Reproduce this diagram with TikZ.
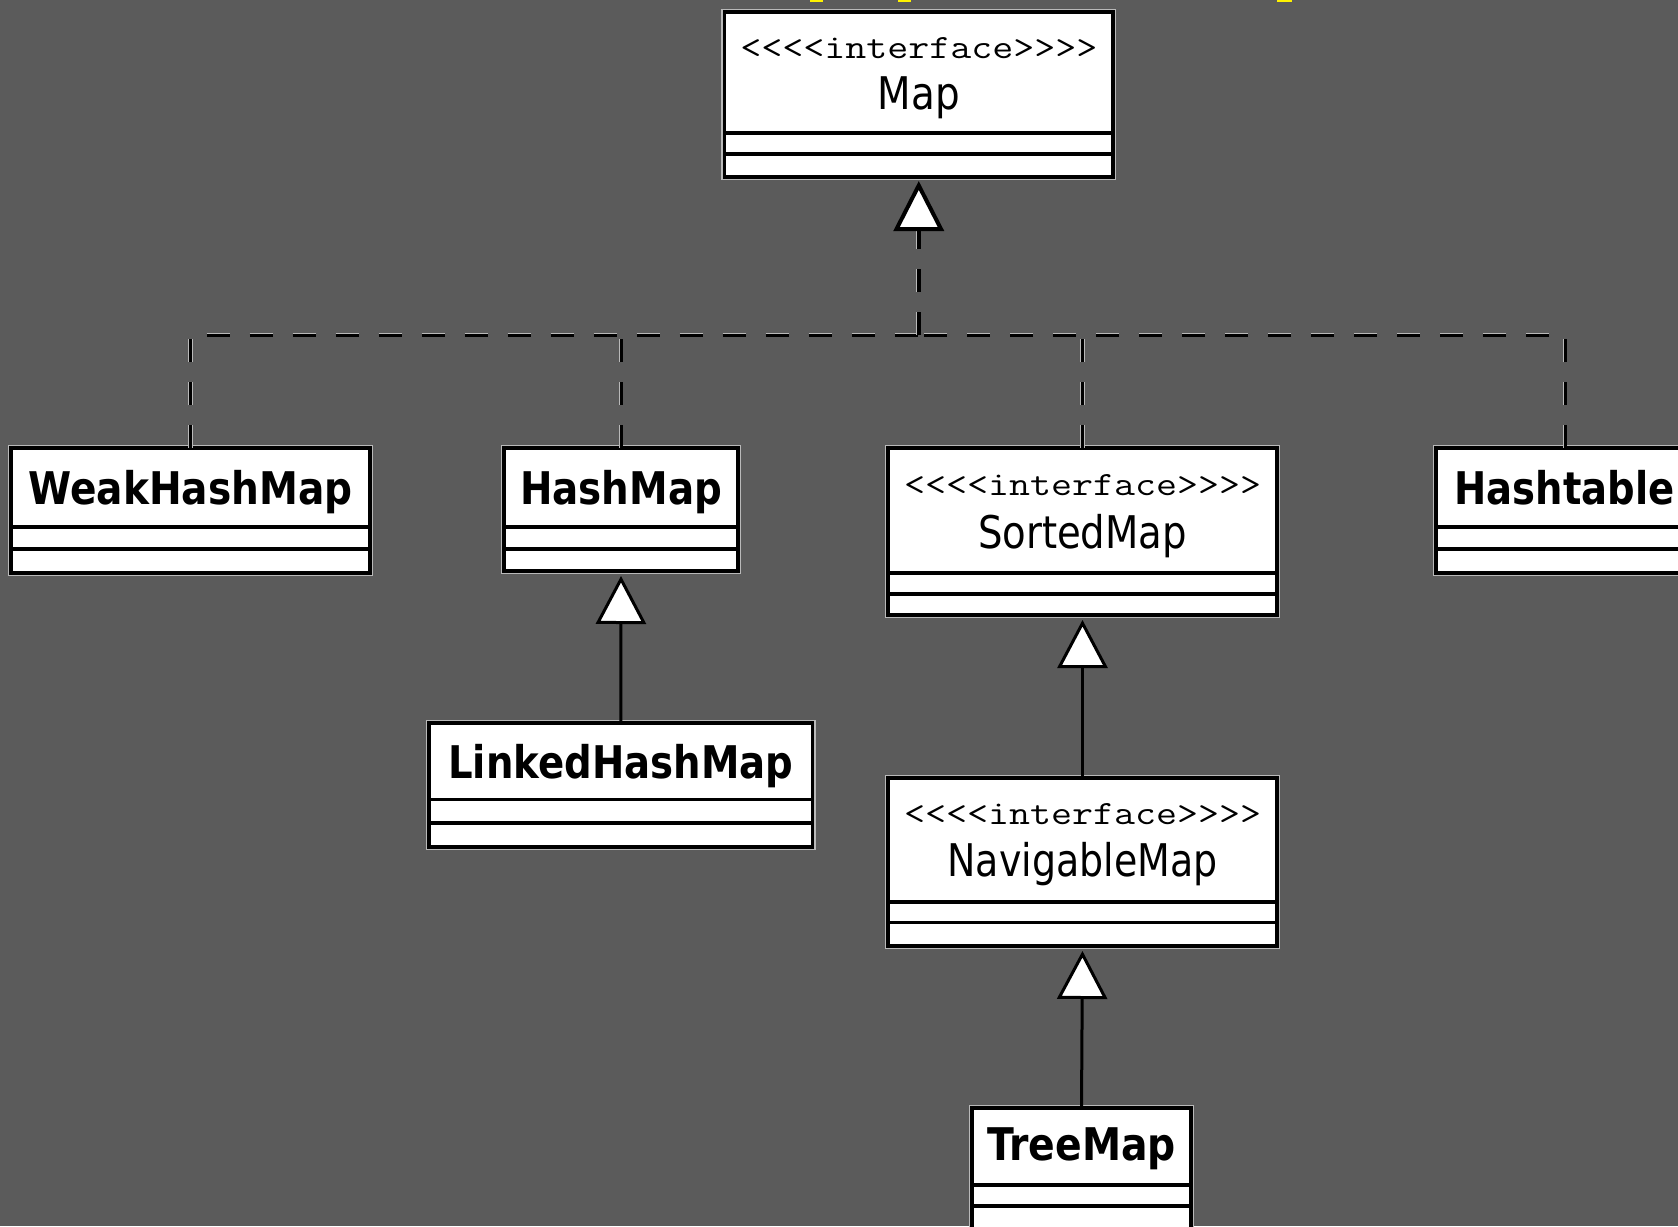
\documentclass[tikz,border=0pt]{standalone}
\usepackage{fontspec}
\usepackage{graphicx}
\setmainfont{DejaVu Sans}
\usetikzlibrary{arrows.meta}
\definecolor{bggray}{RGB}{91,91,91}
\definecolor{halogray}{RGB}{185,185,185}
\newcommand\fitw[2]{\resizebox{#1}{\height}{#2}}
\tikzset{
  boxst/.style={draw=black, fill=white, line width=3.5pt, inner sep=0pt, outer sep=0pt, rectangle, anchor=north west},
  halo/.style={draw=halogray, line width=1.2pt},
  sepline/.style={draw=black, line width=3.5pt},
  stereo/.style={anchor=base, inner sep=0pt, font=\ttfamily\fontsize{34}{34}\selectfont},
  iname/.style={anchor=base, inner sep=0pt, font=\fontsize{45}{45}\selectfont},
  cname/.style={anchor=base, inner sep=0pt, font=\bfseries\fontsize{45}{45}\selectfont},
  inh/.style={draw=black, line width=3pt, shorten >=5pt,
    -{Triangle[length=48pt, width=50pt, fill=white, line width=3pt]}},
  dashhalo/.style={draw=halogray, line width=4.6pt, dash pattern=on 23pt off 20pt},
  dashcore/.style={draw=black, line width=3pt, dash pattern=on 23pt off 20pt},
}
\newcommand\umlbox[7]{%
  \draw[halo] (#2-2.5,#3-2.5) rectangle (#4+2.5,#5+2.5);
  \node[boxst, minimum width={#4-#2}, minimum height={#5-#3}] (#1) at (#2,#3) {};
  \draw[sepline] (#2,#6) -- (#4,#6);
  \draw[sepline] (#2,#7) -- (#4,#7);
}
\begin{document}
\begin{tikzpicture}[x=1pt, y=-1pt]
\useasboundingbox (0,0) rectangle (1678,1226);
\fill[bggray] (0,0) rectangle (1678,1226);
\clip (0,0) rectangle (1678,1226);
% yellow slivers at top edge
\fill[yellow] (810,0) rectangle (823,2);
\fill[yellow] (898,0) rectangle (911,2);
\fill[yellow] (1277,0) rectangle (1292,2);

% boxes
\umlbox{Map}{724.5}{12}{1113}{177}{133}{154}
\umlbox{Weak}{11}{448}{370}{573}{527}{549}
\umlbox{Hash}{504}{448}{738}{571}{527}{549}
\umlbox{Sorted}{888}{448}{1277}{615}{573}{594}
\umlbox{Htab}{1436}{448}{1694}{573}{527}{549}
\umlbox{Linked}{429}{723}{812.5}{847}{799.5}{823}
\umlbox{Nav}{888}{778}{1277}{946}{902}{922.5}
\umlbox{Tree}{972}{1108}{1191}{1240}{1185}{1206}

% texts
\node[stereo] (MapS) at (918.75,58) {\fitw{357pt}{<<<<interface>>>>}};
\node[iname] (MapN) at (918.75,109) {\fitw{82pt}{Map}};
\node[stereo] (SortedS) at (1082.5,495) {\fitw{357pt}{<<<<interface>>>>}};
\node[iname] (SortedN) at (1082.5,548) {\fitw{209pt}{SortedMap}};
\node[stereo] (NavS) at (1082.5,824) {\fitw{357pt}{<<<<interface>>>>}};
\node[iname] (NavN) at (1082.5,876) {\fitw{270pt}{NavigableMap}};
\node[cname] (WeakN) at (190.5,504) {\fitw{324pt}{WeakHashMap}};
\node[cname] (HashN) at (621,504) {\fitw{202pt}{HashMap}};
\node[cname] (HtabN) at (1564.5,504) {\fitw{220pt}{Hashtable}};
\node[cname] (LinkedN) at (620.75,778) {\fitw{345pt}{LinkedHashMap}};
\node[cname] (TreeN) at (1081.5,1160) {\fitw{189pt}{TreeMap}};

% dashed realization tree
\coordinate (bus) at (918.75,335);
\foreach \st in {dashhalo,dashcore}{
  \draw[\st] (Weak.north) |- (bus);
  \draw[\st] (Hash.north) -- (Hash.north |- bus);
  \draw[\st] (Sorted.north) -- (Sorted.north |- bus);
  \draw[\st] (Htab.north) |- (bus);
}
\draw[dashhalo] (bus) -- ([yshift=-50pt]Map.south);
\draw[dashcore, line width=4pt, shorten >=4pt,
  -{Triangle[length=50pt, width=50pt, fill=white, line width=4pt]}] (bus) -- (Map.south);

% solid generalizations
\draw[inh] (Linked.north) -- (Hash.south);
\draw[inh] (Nav.north) -- (Sorted.south);
\draw[inh] (Tree.north) -- (Nav.south);
\end{tikzpicture}
\end{document}
